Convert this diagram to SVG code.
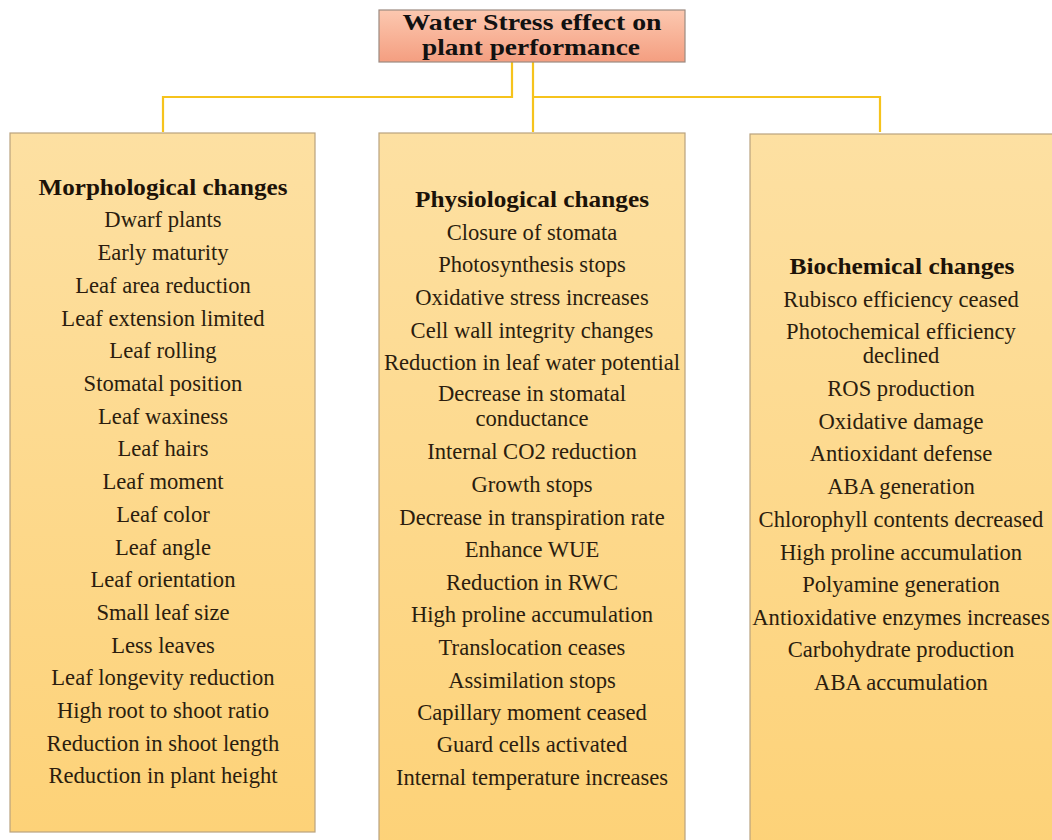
<svg xmlns="http://www.w3.org/2000/svg" width="1052" height="840" viewBox="0 0 1052 840">
<defs>
<linearGradient id="gBox" x1="0" y1="0" x2="0" y2="1">
<stop offset="0" stop-color="#fde0a2"/>
<stop offset="1" stop-color="#fdd278"/>
</linearGradient>
<linearGradient id="gTitle" x1="0" y1="0" x2="0" y2="1">
<stop offset="0" stop-color="#fcc8b0"/>
<stop offset="1" stop-color="#f49e80"/>
</linearGradient>
<style>
.box{fill:url(#gBox);stroke:#b9a27e;stroke-width:1.2}
.tbox{fill:url(#gTitle);stroke:#9c8a80;stroke-width:1.2}
.conn{fill:none;stroke:#f6c31c;stroke-width:2.2}
text{font-family:"Liberation Serif","Times New Roman",serif;text-anchor:middle;fill:#2b1d0e;font-size:22.6px}
.h{font-weight:bold;fill:#1c1208;font-size:23px}
.t{font-weight:bold;fill:#111;font-size:23.5px}
</style>
</defs>
<rect width="1052" height="840" fill="#ffffff"/>
<g id="connectors">
<path class="conn" d="M512 62 V97 H163 V132"/>
<path class="conn" d="M533 62 V132"/>
<path class="conn" d="M533 97 H880 V132"/>
</g>
<g id="title">
<rect class="tbox" x="379" y="10" width="306" height="52"/>
<text class="t" x="532" y="30" textLength="259" lengthAdjust="spacingAndGlyphs">Water Stress effect on</text>
<text class="t" x="531" y="55" textLength="218" lengthAdjust="spacingAndGlyphs">plant performance</text>
</g>
<g id="morphological">
<rect class="box" x="10" y="133" width="305" height="699"/>
<text class="h" x="163" y="195" textLength="249" lengthAdjust="spacingAndGlyphs">Morphological changes</text>
<text x="163" y="227">Dwarf plants</text>
<text x="163" y="260">Early maturity</text>
<text x="163" y="293">Leaf area reduction</text>
<text x="163" y="326">Leaf extension limited</text>
<text x="163" y="358">Leaf rolling</text>
<text x="163" y="391">Stomatal position</text>
<text x="163" y="424">Leaf waxiness</text>
<text x="163" y="456">Leaf hairs</text>
<text x="163" y="489">Leaf moment</text>
<text x="163" y="522">Leaf color</text>
<text x="163" y="555">Leaf angle</text>
<text x="163" y="587">Leaf orientation</text>
<text x="163" y="620">Small leaf size</text>
<text x="163" y="653">Less leaves</text>
<text x="163" y="685">Leaf longevity reduction</text>
<text x="163" y="718">High root to shoot ratio</text>
<text x="163" y="751">Reduction in shoot length</text>
<text x="163" y="783">Reduction in plant height</text>
</g>
<g id="physiological">
<rect class="box" x="379" y="133" width="306" height="712"/>
<text class="h" x="532" y="207" textLength="234" lengthAdjust="spacingAndGlyphs">Physiological changes</text>
<text x="532" y="240">Closure of stomata</text>
<text x="532" y="272">Photosynthesis stops</text>
<text x="532" y="305">Oxidative stress increases</text>
<text x="532" y="338">Cell wall integrity changes</text>
<text x="532" y="370">Reduction in leaf water potential</text>
<text x="532" y="401">Decrease in stomatal</text>
<text x="532" y="426">conductance</text>
<text x="532" y="459">Internal CO2 reduction</text>
<text x="532" y="492">Growth stops</text>
<text x="532" y="525">Decrease in transpiration rate</text>
<text x="532" y="557">Enhance WUE</text>
<text x="532" y="590">Reduction in RWC</text>
<text x="532" y="622">High proline accumulation</text>
<text x="532" y="655">Translocation ceases</text>
<text x="532" y="688">Assimilation stops</text>
<text x="532" y="720">Capillary moment ceased</text>
<text x="532" y="752">Guard cells activated</text>
<text x="532" y="785">Internal temperature increases</text>
</g>
<g id="biochemical">
<rect class="box" x="750" y="134" width="310" height="712"/>
<text class="h" x="902" y="274" textLength="225" lengthAdjust="spacingAndGlyphs">Biochemical changes</text>
<text x="901" y="307">Rubisco efficiency ceased</text>
<text x="901" y="339">Photochemical efficiency</text>
<text x="901" y="363">declined</text>
<text x="901" y="396">ROS production</text>
<text x="901" y="429">Oxidative damage</text>
<text x="901" y="461">Antioxidant defense</text>
<text x="901" y="494">ABA generation</text>
<text x="901" y="527">Chlorophyll contents decreased</text>
<text x="901" y="560">High proline accumulation</text>
<text x="901" y="592">Polyamine generation</text>
<text x="901" y="625">Antioxidative enzymes increases</text>
<text x="901" y="657">Carbohydrate production</text>
<text x="901" y="690">ABA accumulation</text>
</g>
</svg>
